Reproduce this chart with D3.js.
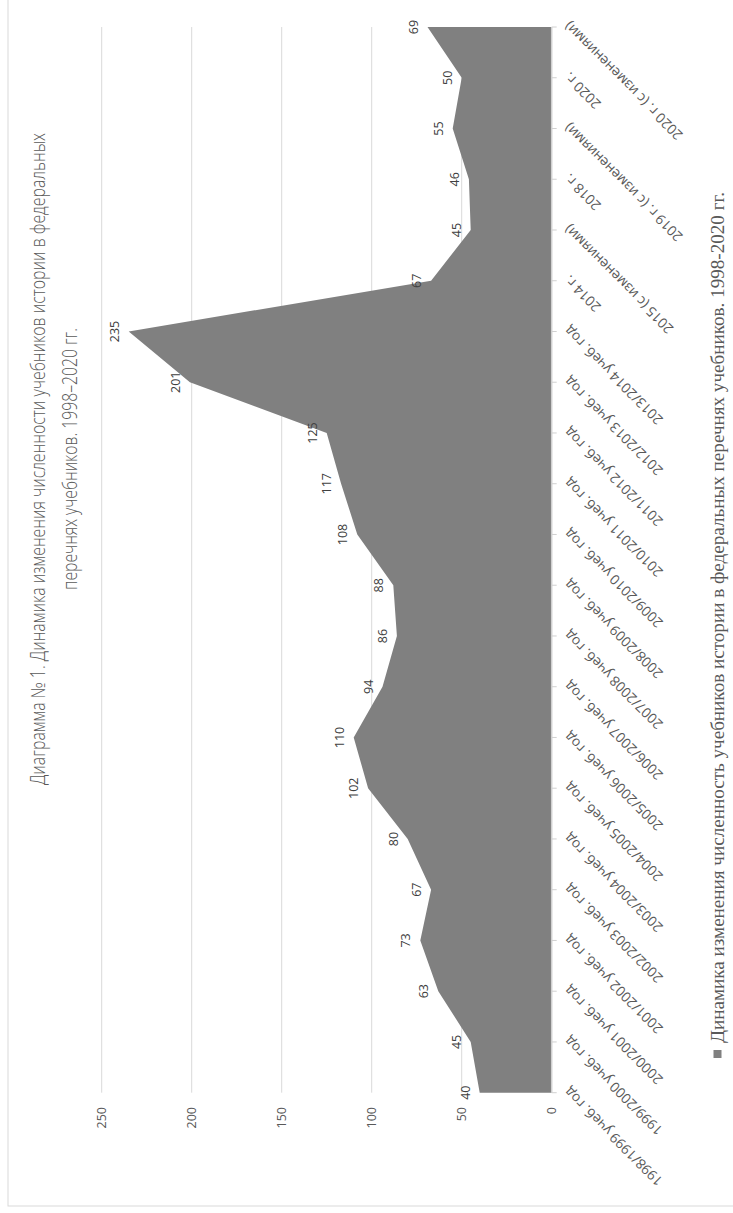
<!DOCTYPE html>
<meta charset="utf-8">
<style>
body { margin: 0; background: #fff; }
.grid line { stroke: #d9d9d9; stroke-width: 1px; }
.tick-label { font-family: "Open Sans", sans-serif; font-size: 12.5px; fill: #595959; }
.cat-label { font-family: "Open Sans", sans-serif; font-size: 13.8px; fill: #595959; }
.data-label { font-family: "Open Sans", sans-serif; font-size: 12.5px; fill: #404040; }
.title { font-family: "Open Sans", sans-serif; font-size: 19.5px; font-weight: 300; fill: #595959; }
.legend { font-family: "Liberation Serif", "Times New Roman", serif; font-size: 18.5px; fill: #595959; }
</style>
<body>
<script src="https://cdn.jsdelivr.net/npm/d3@7"></script>
<script>
var categories = [
  "1998/1999 учеб. год", "1999/2000 учеб. год", "2000/2001 учеб. год",
  "2001/2002 учеб. год", "2002/2003 учеб. год", "2003/2004 учеб. год",
  "2004/2005 учеб. год", "2005/2006 учеб. год", "2006/2007 учеб. год",
  "2007/2008 учеб. год", "2008/2009 учеб. год", "2009/2010 учеб. год",
  "2010/2011 учеб. год", "2011/2012 учеб. год", "2012/2013 учеб. год",
  "2013/2014 учеб. год", "2014 г.", "2015 (с изменениями)", "2018 г.",
  "2019 г. (с изменениями)", "2020 г.", "2020 г. (с изменениями)"
];
var values = [40, 45, 63, 73, 67, 80, 102, 110, 94, 86, 88, 108, 117, 125, 201, 235, 67, 45, 46, 55, 50, 69];
var valueTicks = [0, 50, 100, 150, 200, 250];
var titleLines = [
  "Диаграмма № 1. Динамика изменения численности учебников истории в федеральных",
  "перечнях учебников. 1998–2020 гг."
];
var legendLabel = "Динамика изменения численность учебников истории в федеральных перечнях учебников. 1998-2020 гг.";

// the chart is laid out landscape (1213 x 733) and then turned a quarter to fit the portrait page
var W = 1213, H = 733;

var svg = d3.select("body").append("svg")
    .attr("width", H)
    .attr("height", W);

var g = svg.append("g")
    .attr("transform", "translate(0," + W + ") rotate(-90)");

// chart frame (only the left and top edges fall inside the picture)
g.append("rect")
    .attr("x", 7).attr("y", 8)
    .attr("width", 1300).attr("height", 800)
    .attr("fill", "none")
    .attr("stroke", "#d9d9d9");

var x = d3.scalePoint().domain(categories).range([120.3, 1186]);
var y = d3.scaleLinear().domain([0, 250]).range([551.7, 101.7]);

// gridlines
g.append("g").attr("class", "grid")
  .selectAll("line")
  .data(valueTicks.slice(1))
  .enter().append("line")
    .attr("x1", x.range()[0]).attr("x2", x.range()[1])
    .attr("y1", function(d) { return y(d); })
    .attr("y2", function(d) { return y(d); });

var area = d3.area()
    .x(function(d, i) { return x(categories[i]); })
    .y0(y(0))
    .y1(function(d) { return y(d); });

g.append("path")
    .datum(values)
    .attr("fill", "#808080")
    .attr("d", area);

// category axis
g.append("line")
    .attr("x1", x.range()[0]).attr("x2", x.range()[1])
    .attr("y1", y(0)).attr("y2", y(0))
    .attr("stroke", "#d0d0d0")
    .attr("stroke-width", 1.5);

g.selectAll(".cat-tick")
  .data(categories)
  .enter().append("line")
    .attr("class", "cat-tick")
    .attr("x1", function(d) { return x(d); })
    .attr("x2", function(d) { return x(d); })
    .attr("y1", y(0)).attr("y2", y(0) + 5)
    .attr("stroke", "#d0d0d0");

g.selectAll(".cat-label")
  .data(categories)
  .enter().append("text")
    .attr("class", "cat-label")
    .attr("text-anchor", "end")
    .attr("dy", "0.35em")
    .attr("transform", function(d) {
      return "translate(" + (x(d) + 3) + "," + (y(0) + 15) + ") rotate(-45)";
    })
    .text(function(d) { return d; });

// value axis labels
g.selectAll(".val-label")
  .data(valueTicks)
  .enter().append("text")
    .attr("class", "tick-label")
    .attr("text-anchor", "end")
    .attr("x", 106)
    .attr("y", function(d) { return y(d); })
    .attr("dy", "0.35em")
    .text(function(d) { return d; });

// data labels
g.selectAll(".data-label")
  .data(values)
  .enter().append("text")
    .attr("class", "data-label")
    .attr("text-anchor", "middle")
    .attr("x", function(d, i) { return x(categories[i]); })
    .attr("y", function(d) { return y(d) - 10; })
    .text(function(d) { return d; });

// title (Calibri Light is narrower than the fonts at hand, so fit the measured widths)
var titleWidths = [652, 262];
g.selectAll(".title")
  .data(titleLines)
  .enter().append("text")
    .attr("class", "title")
    .attr("text-anchor", "middle")
    .attr("x", 754)
    .attr("y", function(d, i) { return 45 + i * 32; })
    .attr("textLength", function(d, i) { return titleWidths[i]; })
    .attr("lengthAdjust", "spacingAndGlyphs")
    .text(function(d) { return d; });

// legend
g.append("rect")
    .attr("x", 155).attr("y", 713.5)
    .attr("width", 8).attr("height", 8)
    .attr("fill", "#808080");

g.append("text")
    .attr("class", "legend")
    .attr("x", 170)
    .attr("y", 724)
    .attr("textLength", 851)
    .attr("lengthAdjust", "spacingAndGlyphs")
    .text(legendLabel);
</script>
</body>
